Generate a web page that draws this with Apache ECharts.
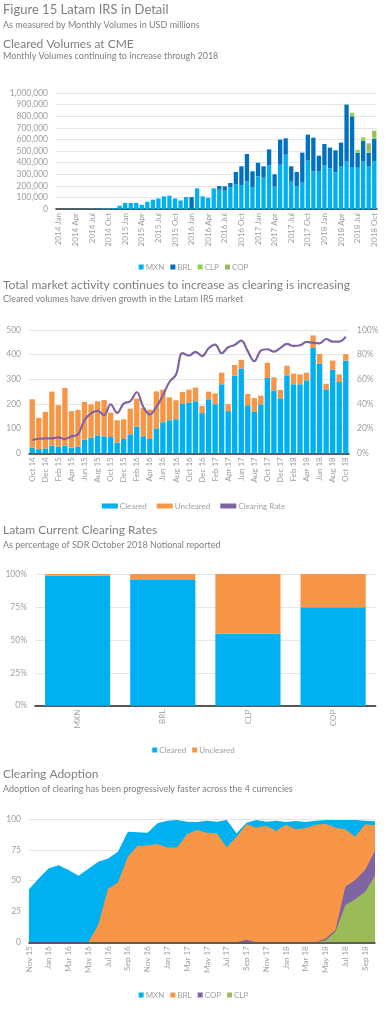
<!DOCTYPE html>
<html><head><meta charset="utf-8">
<script src="https://cdn.jsdelivr.net/npm/echarts/dist/echarts.min.js"></script>
<style>
html,body{margin:0;padding:0;background:#fff;}
.c{position:absolute;left:0;width:387px;}
</style></head><body>
<div id="c1" class="c" style="top:0;height:270px"></div>
<div id="c2" class="c" style="top:270px;height:245px"></div>
<div id="c3" class="c" style="top:515px;height:245px"></div>
<div id="c4" class="c" style="top:760px;height:264px"></div>
<script>
// ---------- Chart 1: Cleared Volumes at CME (USD millions) ----------
var months1 = ['2014 Jan','2014 Feb','2014 Mar','2014 Apr','2014 May','2014 Jun','2014 Jul','2014 Aug','2014 Sep','2014 Oct','2014 Nov','2014 Dec',
  '2015 Jan','2015 Feb','2015 Mar','2015 Apr','2015 May','2015 Jun','2015 Jul','2015 Aug','2015 Sep','2015 Oct','2015 Nov','2015 Dec',
  '2016 Jan','2016 Feb','2016 Mar','2016 Apr','2016 May','2016 Jun','2016 Jul','2016 Aug','2016 Sep','2016 Oct','2016 Nov','2016 Dec',
  '2017 Jan','2017 Feb','2017 Mar','2017 Apr','2017 May','2017 Jun','2017 Jul','2017 Aug','2017 Sep','2017 Oct','2017 Nov','2017 Dec',
  '2018 Jan','2018 Feb','2018 Mar','2018 Apr','2018 May','2018 Jun','2018 Jul','2018 Aug','2018 Sep','2018 Oct'];
var cmeMXN = [1000,1000,1500,1500,2000,2000,2500,3000,6000,7000,7000,28000,
  52000,52000,52000,37000,63000,80000,91000,109000,115000,91000,74000,103000,
  5000,178000,109000,97000,178000,166000,158000,187000,210000,207000,238000,190000,
  282000,270000,376000,193000,382000,468000,236000,193000,227000,417000,325000,322000,
  374000,351000,316000,365000,408000,362000,356000,408000,365000,414000];
var cmeBRL = [0,0,0,0,0,0,0,0,0,0,0,0,
  0,0,0,0,0,0,0,0,0,0,0,0,
  98000,0,0,0,0,32000,37000,37000,109000,161000,236000,135000,
  117000,98000,138000,106000,216000,141000,132000,126000,259000,224000,290000,138000,
  186000,178000,190000,207000,492000,437000,130000,181000,121000,189000];
var cmeCLP = [0,0,0,0,0,0,0,0,0,0,0,0, 0,0,0,0,0,0,0,0,0,0,0,0, 0,0,0,0,0,0,0,0,0,0,0,0,
  0,0,0,0,0,0,0,0,0,0,0,0, 0,0,0,0,5000,31000,25000,29000,10000,12000];
var cmeCOP = [0,0,0,0,0,0,0,0,0,0,0,0, 0,0,0,0,0,0,0,0,0,0,0,0, 0,0,0,0,0,0,0,0,0,0,0,0,
  0,0,0,0,0,0,0,0,0,0,0,0, 0,0,0,0,0,0,0,0,70000,60000];
var ticks1 = [0,100000,200000,300000,400000,500000,600000,700000,800000,900000,1000000];

// ---------- Chart 2: Total market activity ----------
var months2 = ['Oct 14','Nov 14','Dec 14','Jan 15','Feb 15','Mar 15','Apr 15','May 15','Jun 15','Jul 15','Aug 15','Sep 15',
  'Oct 15','Nov 15','Dec 15','Jan 16','Feb 16','Mar 16','Apr 16','May 16','Jun 16','Jul 16','Aug 16','Sep 16',
  'Oct 16','Nov 16','Dec 16','Jan 17','Feb 17','Mar 17','Apr 17','May 17','Jun 17','Jul 17','Aug 17','Sep 17',
  'Oct 17','Nov 17','Dec 17','Jan 18','Feb 18','Mar 18','Apr 18','May 18','Jun 18','Jul 18','Aug 18','Sep 18','Oct 18'];
var cleared2 = [23,17,20,31,26,31,23,27,55,63,73,69,66,43,58,77,108,69,58,101,126,134,138,200,
  206,211,163,219,199,280,171,315,344,195,168,198,306,255,223,316,280,280,296,427,363,259,339,289,376];
var uncleared2 = [196,127,148,219,169,234,148,149,153,135,138,147,99,91,80,104,114,115,119,150,132,93,77,49,
  52,56,29,31,44,47,28,43,35,46,56,36,61,53,34,39,43,40,31,51,40,23,37,31,26];
var rate2 = [10.8,11.8,12.1,12.1,12.9,11.6,13.7,15.3,26.9,32.3,34.4,30.9,39.8,32.8,40.3,42.2,49.5,37.6,31.5,37.6,47,57.8,63.7,81.2,
  79.3,82.3,78.8,85.2,88.2,81.2,86,87.9,91.4,82.8,74.7,83.3,84.4,82.5,85.5,88.7,87.1,87.6,90.3,89.5,89.2,92.7,90.6,90.6,94.6];

// ---------- Chart 3: Current clearing rates ----------
var currencies3 = ['MXN','BRL','CLP','COP'];
var cleared3 = [98.7,95.4,54.9,74.7];
var uncleared3 = [1.3,4.6,45.1,25.3];

// ---------- Chart 4: Clearing adoption ----------
var months4 = ['Nov 15','Dec 15','Jan 16','Feb 16','Mar 16','Apr 16','May 16','Jun 16','Jul 16','Aug 16','Sep 16','Oct 16',
  'Nov 16','Dec 16','Jan 17','Feb 17','Mar 17','Apr 17','May 17','Jun 17','Jul 17','Aug 17','Sep 17','Oct 17',
  'Nov 17','Dec 17','Jan 18','Feb 18','Mar 18','Apr 18','May 18','Jun 18','Jul 18','Aug 18','Sep 18','Oct 18'];
var adoptMXN = [43,52,60,62.4,58.6,54,59.7,65.4,68,73.5,89.7,89.2,88.9,96.5,98.6,99.2,97.8,97.5,98.6,97.8,99.2,88.4,97,99.2,
  97.8,98.6,97.6,98.4,97.6,98.6,99.2,99.2,99.2,99.2,98.6,98.1];
var adoptBRL = [0,0,0,0,0,0,0,14,43.5,48.4,69.5,78.4,78.6,79.7,76.8,77,87.8,91,88.9,88.4,77,85.7,95.7,93.2,
  94.6,90.5,95.4,91.6,92.7,95.4,96.2,93,91.6,85.7,95.7,94.9];
var adoptCOP = [0,0,0,0,0,0,0,0,0,0,0,0,0,0,0,0,0,0,0,0,0,0,2,0,0,0,0,0,0,0,3,10,45,50.5,58.6,74.3];
var adoptCLP = [0,0,0,0,0,0,0,0,0,0,0,0,0,0,0,0,0,0,0,0,0,0,0,0,0,0,0,0,0,0,1.4,8.6,30,35,41,54];

// ---------- styles ----------
var FONT = 'Lato, "Open Sans", sans-serif';
var LBL = '#a0a0a0';
var TTL = '#7f7f7f';
var GRIDC = '#e6e6e6';
var AXC = '#262626';
var C_MXN = '#00B0F0', C_BRL = '#0070C0', C_CLP = '#92D050', C_COP = '#9BBB59';
var C_CLR = '#00B0F0', C_UNC = '#F79646', C_RATE = '#8064A2';

function titles(t, s, tTop, sTop) {
  return [
    {text: t, left: 3, top: tTop, padding: 0, textStyle: {fontFamily: FONT, fontSize: 12, fontWeight: 'normal', color: TTL, lineHeight: 14}},
    {text: s, left: 3, top: sTop, padding: 0, textStyle: {fontFamily: FONT, fontSize: 9, fontWeight: 'normal', color: TTL, lineHeight: 10}}
  ];
}
function catAxis(data, interval, extra) {
  var a = {type: 'category', data: data, axisTick: {show: false},
    axisLine: {lineStyle: {color: AXC, width: 1.5}},
    axisLabel: {rotate: 90, interval: interval, fontSize: 8, color: LBL, fontFamily: FONT, margin: 4}};
  if (extra) for (var k in extra) a[k] = extra[k];
  return a;
}
function valAxis(min, max, interval, fmt, extra) {
  var a = {type: 'value', min: min, max: max, interval: interval,
    axisLine: {show: false}, axisTick: {show: false},
    splitLine: {lineStyle: {color: GRIDC, width: 1}},
    axisLabel: {fontSize: 8.5, color: LBL, fontFamily: FONT, formatter: fmt, margin: 8}};
  if (extra) for (var k in extra) a[k] = extra[k];
  return a;
}
function legend(top, names, extra) {
  var l = {top: top, left: 'center', data: names, itemWidth: 5, itemHeight: 5, itemGap: 6,
    textStyle: {fontSize: 8, color: LBL, fontFamily: FONT, padding: [0, 0, 0, -3]}, icon: 'rect'};
  if (extra) for (var k in extra) l[k] = extra[k];
  return l;
}
function commas(v) { return String(v).replace(/\B(?=(\d{3})+(?!\d))/g, ','); }

// ---------- chart 1 ----------
var ch1 = echarts.init(document.getElementById('c1'), null, {renderer: 'canvas'});
var t1 = titles('Cleared Volumes at CME', 'Monthly Volumes continuing to increase through 2018', 37, 51.5);
t1.unshift(
  {text: 'Figure 15 Latam IRS in Detail', left: 3, top: 2, padding: 0, textStyle: {fontFamily: FONT, fontSize: 13, fontWeight: 'normal', color: TTL, lineHeight: 15}},
  {text: 'As measured by Monthly Volumes in USD millions', left: 3, top: 20, padding: 0, textStyle: {fontFamily: FONT, fontSize: 9, fontWeight: 'normal', color: TTL, lineHeight: 10}}
);
ch1.setOption({
  animation: false,
  title: t1,
  grid: {left: 56, right: 10, top: 93, bottom: 61},
  legend: legend(258, ['MXN', 'BRL', 'CLP', 'COP']),
  xAxis: catAxis(months1, 2),
  yAxis: valAxis(ticks1[0], ticks1[ticks1.length - 1], ticks1[1] - ticks1[0], function (v) { return commas(v); }),
  series: [
    {name: 'MXN', type: 'bar', stack: 'v', data: cmeMXN, itemStyle: {color: C_MXN}, barCategoryGap: '22%'},
    {name: 'BRL', type: 'bar', stack: 'v', data: cmeBRL, itemStyle: {color: C_BRL}},
    {name: 'CLP', type: 'bar', stack: 'v', data: cmeCLP, itemStyle: {color: C_CLP}},
    {name: 'COP', type: 'bar', stack: 'v', data: cmeCOP, itemStyle: {color: C_COP}}
  ]
});

// ---------- chart 2 ----------
var ch2 = echarts.init(document.getElementById('c2'));
ch2.setOption({
  animation: false,
  title: titles('Total market activity continues to increase as clearing is increasing', 'Cleared volumes have driven growth in the Latam IRS market', 8, 24.5),
  grid: {left: 29, right: 38, top: 60, bottom: 61.7},
  legend: legend(227, [{name: 'Cleared', icon: 'rect'}, {name: 'Uncleared', icon: 'rect'}, {name: 'Clearing Rate'}], {itemWidth: 16, itemHeight: 5, itemGap: 10}),
  xAxis: catAxis(months2, 1),
  yAxis: [
    valAxis(0, 500, 100, '{value}'),
    valAxis(0, 100, 20, '{value}%', {splitLine: {show: false}, position: 'right'})
  ],
  series: [
    {name: 'Cleared', type: 'bar', stack: 't', data: cleared2, itemStyle: {color: C_CLR}, barCategoryGap: '18%'},
    {name: 'Uncleared', type: 'bar', stack: 't', data: uncleared2, itemStyle: {color: C_UNC}},
    {name: 'Clearing Rate', type: 'line', yAxisIndex: 1, data: rate2, smooth: 0.4, symbol: 'none',
      lineStyle: {color: C_RATE, width: 2.2}, itemStyle: {color: C_RATE}, z: 5}
  ]
});

// ---------- chart 3 ----------
var ch3 = echarts.init(document.getElementById('c3'));
ch3.setOption({
  animation: false,
  title: titles('Latam Current Clearing Rates', 'As percentage of SDR October 2018 Notional reported', 8, 25),
  grid: {left: 35, right: 11.3, top: 59, bottom: 54.3},
  legend: legend(226, ['Cleared', 'Uncleared']),
  xAxis: catAxis(currencies3, 0),
  yAxis: valAxis(0, 100, 25, '{value}%'),
  series: [
    {name: 'Cleared', type: 'bar', stack: 'r', data: cleared3, itemStyle: {color: C_CLR}, barCategoryGap: '23.5%'},
    {name: 'Uncleared', type: 'bar', stack: 'r', data: uncleared3, itemStyle: {color: C_UNC}}
  ]
});

// ---------- chart 4 ----------
var ch4 = echarts.init(document.getElementById('c4'));
function area(name, data, color) {
  return {name: name, type: 'line', data: data, symbol: 'none', itemStyle: {color: color},
    lineStyle: {width: 0, color: color}, areaStyle: {color: color, opacity: 1}};
}
ch4.setOption({
  animation: false,
  title: titles('Clearing Adoption', 'Adoption of clearing has been progressively faster across the 4 currencies', 7, 24),
  grid: {left: 29, right: 12, top: 59, bottom: 81.7},
  legend: legend(226, ['MXN', 'BRL', 'COP', 'CLP']),
  xAxis: catAxis(months4, 1, {boundaryGap: false}),
  yAxis: valAxis(0, 100, 25, '{value}'),
  series: [
    area('MXN', adoptMXN, C_MXN),
    area('BRL', adoptBRL, C_UNC),
    area('COP', adoptCOP, C_RATE),
    area('CLP', adoptCLP, C_COP)
  ]
});
</script>
</body></html>
